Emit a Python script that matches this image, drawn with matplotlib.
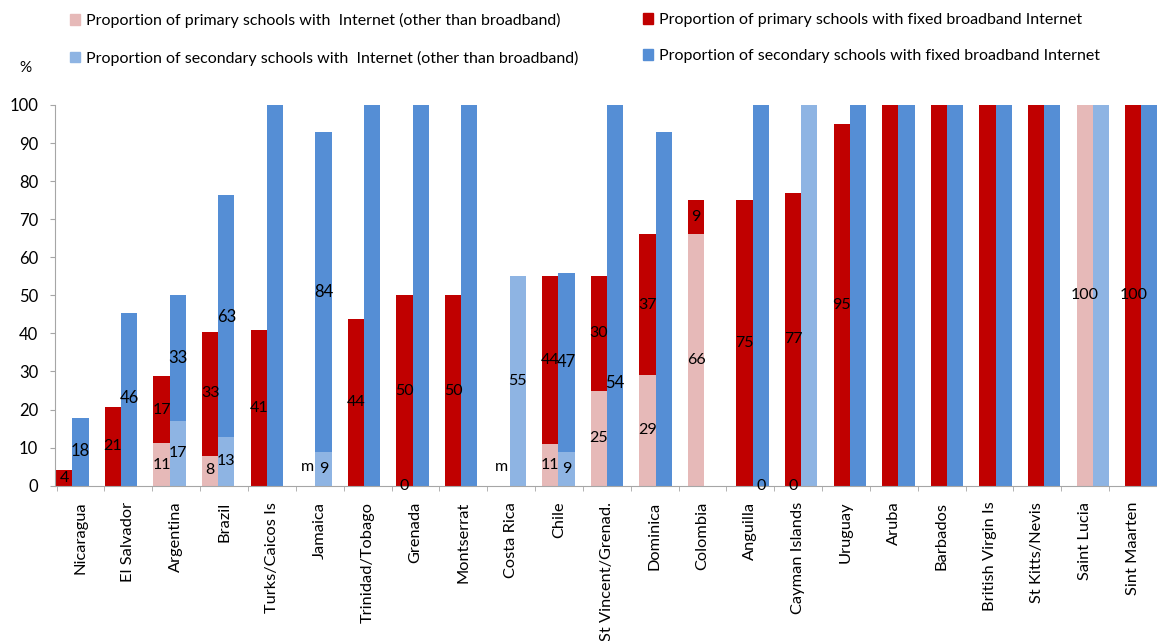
import numpy as np
import matplotlib
matplotlib.use("Agg")
import matplotlib.pyplot as plt
from matplotlib.patches import Patch

plt.rcParams['font.family'] = ['Lato', 'DejaVu Sans']

countries = ["Nicaragua", "El Salvador", "Argentina", "Brazil", "Turks/Caicos Is", "Jamaica",
             "Trinidad/Tobago", "Grenada", "Montserrat", "Costa Rica", "Chile", "St Vincent/Grenad.",
             "Dominica", "Colombia", "Anguilla", "Cayman Islands", "Uruguay", "Aruba", "Barbados",
             "British Virgin Is", "St Kitts/Nevis", "Saint Lucia", "Sint Maarten"]

# bar heights
prim_other = [0, 0, 11.3, 7.8, 0, 0, 0, 0, 0, 0, 11, 25, 29, 66, 0, 0, 0, 0, 0, 0, 0, 100, 0]
prim_fixed = [4, 20.8, 17.5, 32.5, 40.8, 0, 43.8, 50, 50, 0, 44, 30, 37, 9, 75, 77, 95, 100, 100, 100, 100, 0, 100]
sec_other = [0, 0, 17.1, 12.9, 0, 8.9, 0, 0, 0, 55, 8.9, 0, 0, 0, 0, 100, 0, 0, 0, 0, 0, 100, 0]
sec_fixed = [17.7, 45.3, 33, 63.4, 100, 84, 100, 100, 100, 0, 47, 100, 93, 0, 100, 0, 100, 100, 100, 100, 100, 0, 100]

# data labels as printed
prim_other_lbl = ["", "", "11", "8", "", "m", "", "0", "", "m", "11", "25", "29", "66", "", "0", "", "", "", "", "", "100", ""]
prim_fixed_lbl = ["4", "21", "17", "33", "41", "", "44", "50", "50", "", "44", "30", "37", "9", "75", "77", "95", "", "", "", "", "", "100"]
sec_other_lbl = ["", "", "17", "13", "", "9", "", "", "", "55", "9", "", "", "", "0", "", "", "", "", "", "", "", ""]
sec_fixed_lbl = ["18", "46", "33", "63", "", "84", "", "", "", "", "47", "54", "", "", "", "", "", "", "", "", "", "", ""]

legend_labels = ["Proportion of primary schools with  Internet (other than broadband)",
                 "Proportion of secondary schools with  Internet (other than broadband)",
                 "Proportion of primary schools with fixed broadband Internet",
                 "Proportion of secondary schools with fixed broadband Internet"]

c_pink = "#E6B9B8"
c_red = "#C00000"
c_lblue = "#8EB4E3"
c_blue = "#558ED5"
axis_gray = "#A6A6A6"

fig = plt.figure(figsize=(11.57, 6.41), dpi=100)
ax = fig.add_axes([0.0475, 0.2423, 0.9525, 0.5939])

x = np.arange(len(countries))
w = 1 / 3
xp = x - w / 2
xs = x + w / 2

ax.bar(xp, prim_other, w, color=c_pink)
ax.bar(xp, prim_fixed, w, bottom=prim_other, color=c_red)
ax.bar(xs, sec_other, w, color=c_lblue)
ax.bar(xs, sec_fixed, w, bottom=sec_other, color=c_blue)


def put_labels(xpos, bottoms, labels, size=11.5):
    for xi, b, t in zip(xpos, bottoms, labels):
        if t == "":
            continue
        if t == "m":
            y = 5
        else:
            y = b + float(t) / 2
        ax.text(xi, y, t, ha="center", va="center", fontsize=size, color="black")


put_labels(xp, [0] * len(x), prim_other_lbl)
put_labels(xp, prim_other, prim_fixed_lbl)
put_labels(xs, [0] * len(x), sec_other_lbl)
put_labels(xs, sec_other, sec_fixed_lbl, size=12)

ax.set_xlim(-0.361, 22.13)
ax.set_ylim(0, 100)
ax.set_yticks(range(0, 101, 10))

# category axis grid is a bit narrower than the bar spacing in the original
bounds = -0.3265 + 0.9847 * np.arange(len(countries) + 1)
ax.set_xticks(bounds, minor=True)
ax.set_xticks(bounds[:-1] + 0.4923)
ax.set_xticklabels(countries, rotation=90, va="top", ha="center", fontsize=11.8)
ax.tick_params(axis="x", which="major", length=0, pad=11.5)
ax.tick_params(axis="x", which="minor", length=3.5, color=axis_gray, direction="out")
ax.tick_params(axis="y", length=3.6, color=axis_gray, labelsize=12, pad=8.5)

for s in ["top", "right"]:
    ax.spines[s].set_visible(False)
for s in ["left", "bottom"]:
    ax.spines[s].set_color(axis_gray)

fig.text(25 / 1157, 1 - 68 / 641, "%", ha="center", va="center", fontsize=11)

h1 = [Patch(color=c_pink), Patch(color=c_lblue)]
h2 = [Patch(color=c_red), Patch(color=c_blue)]
leg_kw = dict(frameon=False, fontsize=11.55, handlelength=0.65, handleheight=0.65,
              handletextpad=0.35, labelspacing=1.4, borderaxespad=0, borderpad=0)
fig.legend(h1, legend_labels[:2], loc="upper left", bbox_to_anchor=(70 / 1157, 1 - 13 / 641), **leg_kw)
fig.legend(h2, legend_labels[2:], loc="upper left", bbox_to_anchor=(643 / 1157, 1 - 13 / 641), **leg_kw)

fig.savefig("out.png", dpi=100)
